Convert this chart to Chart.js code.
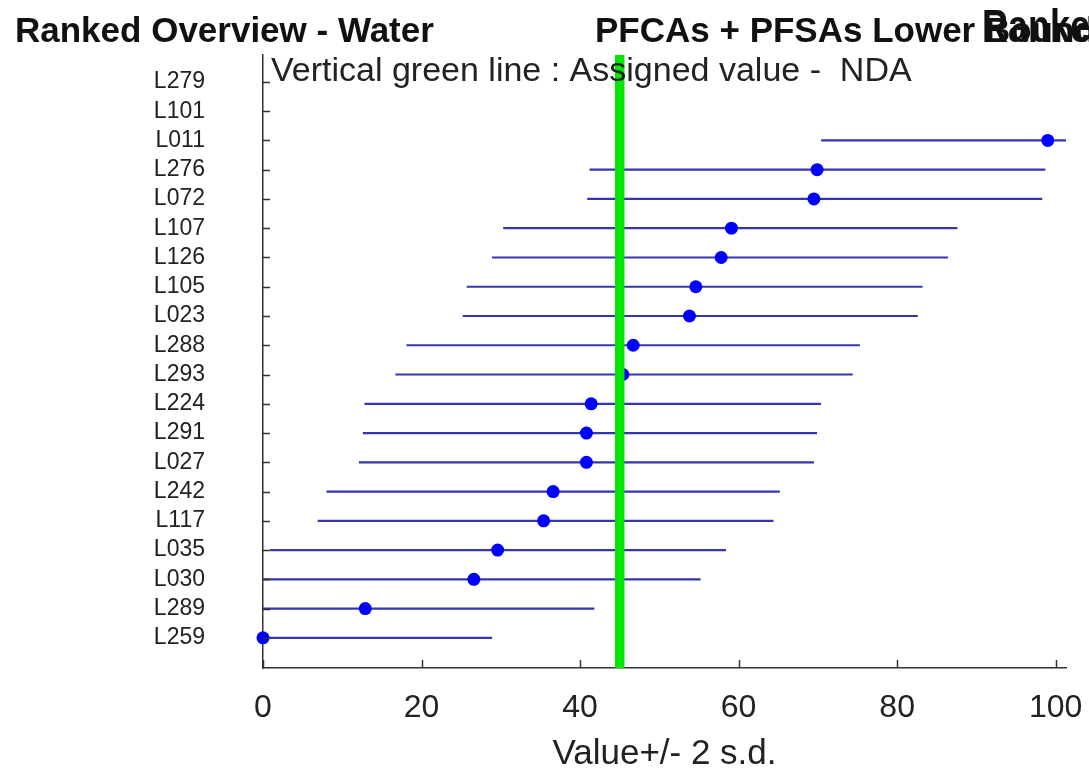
<!DOCTYPE html>
<html><head><meta charset="utf-8">
<script src="https://cdn.jsdelivr.net/npm/chart.js@4.4.1/dist/chart.umd.min.js"></script>
<style>html,body{margin:0;padding:0;background:#fff;}#wrap{width:1089px;height:772px;position:relative;}</style>
</head><body><div id="wrap"><canvas id="c" width="1089" height="772"></canvas></div>
<script>
// ---- data ----
const labs   = ['L279','L101','L011','L276','L072','L107','L126','L105','L023','L288','L293','L224','L291','L027','L242','L117','L035','L030','L289','L259'];
const values = [null, null, 99.0, 69.9, 69.5, 59.1, 57.8, 54.6, 53.8, 46.7, 45.4, 41.4, 40.8, 40.8, 36.6, 35.4, 29.6, 26.6, 12.9, 0.0];
const lows   = [null, null, 70.4, 41.2, 40.9, 30.3, 28.9, 25.7, 25.2, 18.1, 16.7, 12.8, 12.6, 12.1, 8.0, 6.9, 0.9, -2.1, -15.8, -28.7];
const highs  = [null, null, 127.7, 98.7, 98.3, 87.6, 86.4, 83.2, 82.6, 75.3, 74.4, 70.4, 69.9, 69.5, 65.2, 64.4, 58.4, 55.2, 41.8, 28.9];
const assignedValue = 45.0;
const xTicks = [0, 20, 40, 60, 80, 100];
const titleLeft = 'Ranked Overview - Water';
const titleMid = 'PFCAs + PFSAs Lower Bound';
const titleRight = 'Ranked Overview';
const subtitle = 'Vertical green line : Assigned value -  NDA';
const xTitle = 'Value+/- 2 s.d.';

const FONT = "'Liberation Sans', Arial, sans-serif";
const X_MIN = 0, X_MAX = 101.3, Y_MIN = -0.92, Y_MAX = 20.03;

const datasets = [];
datasets.push({
  type: 'line', label: 'assigned',
  data: [{x: assignedValue, y: Y_MIN}, {x: assignedValue, y: Y_MAX}],
  borderColor: '#00e600', borderWidth: 9.5, pointRadius: 0, order: 0
});
datasets.push({
  type: 'scatter', label: 'values',
  data: values.map((v, i) => v === null ? null : {x: v, y: i}).filter(p => p),
  backgroundColor: '#0000ff', borderWidth: 0, pointRadius: 6.5, clip: false, order: 1
});
values.forEach((v, i) => {
  if (v === null) return;
  datasets.push({
    type: 'line', label: labs[i],
    data: [{x: lows[i], y: i}, {x: highs[i], y: i}],
    borderColor: '#3535b0', borderWidth: 2.2, pointRadius: 0, order: 2
  });
});

const decor = {
  id: 'decor',
  afterDraw(chart) {
    const ctx = chart.ctx, xs = chart.scales.x, ys = chart.scales.y, ca = chart.chartArea;
    ctx.save();
    ctx.strokeStyle = '#333'; ctx.lineWidth = 1.5;
    labs.forEach((_, i) => {
      const y = Math.round(ys.getPixelForValue(i)) + 0.5;
      ctx.beginPath(); ctx.moveTo(ca.left, y); ctx.lineTo(ca.left + 7, y); ctx.stroke();
    });
    xTicks.forEach(v => {
      const x = Math.round(xs.getPixelForValue(v)) + 0.5;
      ctx.beginPath(); ctx.moveTo(x, ca.bottom); ctx.lineTo(x, ca.bottom - 8); ctx.stroke();
    });
    ctx.fillStyle = '#111';
    ctx.textBaseline = 'alphabetic'; ctx.textAlign = 'left';
    ctx.font = 'bold 35px ' + FONT;
    ctx.fillText(titleLeft, 15, 42);
    ctx.fillText(titleMid, 595, 42);
    ctx.save();
    ctx.translate(982, 42);
    ctx.scale(1, 1.3);
    ctx.font = 'bold 36px ' + FONT;
    ctx.fillText(titleRight, 0, 0);
    ctx.restore();
    ctx.fillStyle = '#222';
    ctx.font = '34px ' + FONT;
    ctx.fillText(subtitle, 271, 81);
    ctx.restore();
  }
};

new Chart(document.getElementById('c'), {
  type: 'scatter',
  data: { datasets },
  plugins: [decor],
  options: {
    responsive: false, animation: false, devicePixelRatio: 1,
    layout: { padding: { top: 55, right: 23, left: 0, bottom: 0 } },
    plugins: { legend: { display: false }, tooltip: { enabled: false }, title: { display: false } },
    scales: {
      x: {
        type: 'linear', position: 'bottom', min: X_MIN, max: X_MAX,
        afterBuildTicks: s => { s.ticks = xTicks.map(v => ({ value: v })); },
        afterFit: s => { s.height = 104; s.paddingLeft = 0; s.paddingRight = 0; },
        grid: { display: true, drawOnChartArea: false, drawTicks: false },
        border: { display: true, color: '#333', width: 1.5 },
        ticks: { font: { family: FONT, size: 32 }, color: '#222', padding: 21, maxRotation: 0, autoSkip: false },
        title: { display: true, text: xTitle, font: { family: FONT, size: 35 }, color: '#222', padding: { top: 0, bottom: -3 } }
      },
      y: {
        type: 'linear', reverse: true, min: Y_MIN, max: Y_MAX,
        afterBuildTicks: s => { s.ticks = labs.map((_, i) => ({ value: i })); },
        afterFit: s => { s.width = 263; s.paddingTop = 0; s.paddingBottom = 0; },
        grid: { display: true, drawOnChartArea: false, drawTicks: false },
        border: { display: true, color: '#333', width: 1.5 },
        ticks: { font: { family: FONT, size: 23 }, color: '#222', padding: 58, autoSkip: false,
                 callback: v => labs[v] }
      }
    }
  }
});
</script></body></html>
